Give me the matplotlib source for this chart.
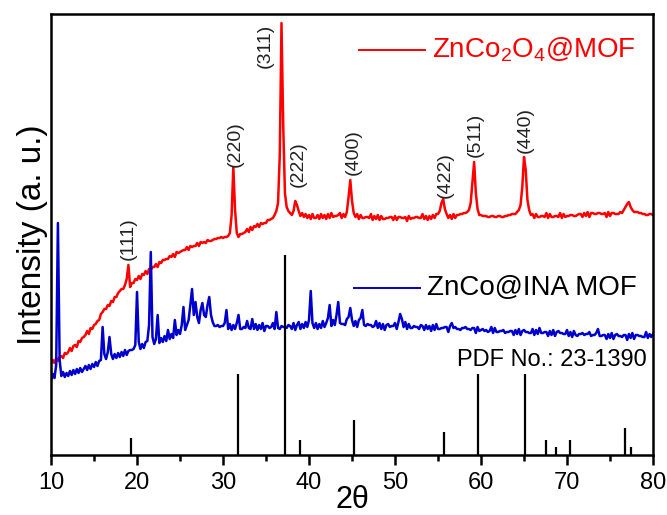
import numpy as np
import matplotlib
matplotlib.use("Agg")
import matplotlib.pyplot as plt

plt.rcParams["font.family"] = ["Liberation Sans", "DejaVu Sans"]
plt.rcParams["mathtext.fontset"] = "custom"
plt.rcParams["mathtext.rm"] = "Liberation Sans"
plt.rcParams["mathtext.it"] = "Liberation Sans"

# 2-theta grid (0.2 deg step) shared by both patterns
two_theta = np.round(np.arange(10.0, 80.01, 0.2), 1)

# ZnCo2O4@MOF intensity (a. u.), one row = 2 deg
red_y = [
    92, 95, 92, 97, 94, 98, 99, 97, 102, 101,
    103, 107, 104, 109, 110, 108, 114, 113, 117, 118,
    120, 124, 121, 127, 126, 130, 131, 134, 135, 141,
    143, 146, 146, 150, 149, 154, 153, 158, 158, 162,
    164, 166, 166, 170, 176, 190, 168, 172, 172, 176,
    175, 179, 176, 181, 180, 184, 181, 186, 185, 188,
    188, 191, 188, 193, 192, 195, 195, 196, 196, 199,
    198, 201, 198, 203, 202, 203, 204, 205, 205, 208,
    205, 209, 208, 209, 209, 212, 209, 213, 212, 213,
    212, 215, 214, 214, 215, 216, 216, 217, 217, 218,
    217, 218, 218, 219, 222, 240, 288, 245, 222, 218,
    221, 221, 222, 223, 226, 223, 228, 225, 229, 228,
    231, 228, 232, 231, 232, 232, 235, 235, 236, 237,
    240, 244, 252, 300, 432, 330, 262, 248, 244, 242,
    240, 244, 254, 250, 244, 239, 242, 238, 241, 237,
    240, 236, 241, 237, 237, 240, 236, 241, 237, 240,
    236, 241, 237, 242, 238, 239, 239, 240, 242, 237,
    241, 238, 243, 258, 275, 254, 242, 238, 241, 236,
    240, 237, 237, 238, 238, 237, 241, 235, 239, 236,
    240, 235, 239, 236, 236, 237, 237, 238, 238, 235,
    239, 235, 238, 238, 237, 237, 238, 234, 239, 236,
    237, 237, 238, 238, 237, 237, 241, 236, 239, 235,
    239, 236, 240, 237, 241, 241, 244, 252, 256, 246,
    241, 237, 240, 236, 241, 237, 240, 240, 241, 241,
    242, 242, 243, 245, 252, 272, 293, 262, 246, 240,
    240, 239, 239, 239, 238, 238, 239, 239, 238, 238,
    239, 239, 238, 238, 239, 239, 240, 240, 241, 241,
    241, 243, 245, 250, 268, 298, 285, 255, 245, 240,
    241, 237, 241, 238, 238, 239, 239, 238, 242, 237,
    241, 238, 238, 239, 239, 238, 242, 237, 241, 238,
    239, 239, 240, 240, 239, 239, 240, 241, 241, 238,
    242, 239, 243, 238, 242, 242, 241, 241, 242, 242,
    241, 241, 242, 238, 243, 239, 242, 242, 241, 241,
    241, 243, 242, 245, 248, 251, 253, 248, 245, 243,
    243, 243, 242, 242, 241, 241, 240, 240, 241, 241,
    240,
]

# ZnCo@INA MOF intensity (a. u.)
blue_y = [
    75, 81, 77, 90, 232, 95, 79, 83, 78, 82,
    79, 84, 80, 85, 81, 86, 82, 87, 83, 86,
    89, 85, 90, 86, 91, 88, 93, 89, 94, 95,
    128, 101, 96, 103, 118, 101, 96, 101, 97, 102,
    98, 103, 99, 105, 100, 104, 105, 105, 106, 110,
    163, 113, 106, 111, 107, 113, 114, 130, 203, 118,
    111, 116, 140, 112, 117, 113, 119, 114, 125, 116,
    121, 117, 135, 120, 125, 121, 130, 148, 125, 130,
    135, 150, 166, 140, 153, 138, 132, 145, 152, 140,
    138, 150, 158, 140, 133, 129, 129, 130, 128, 129,
    129, 132, 145, 126, 131, 125, 130, 126, 132, 140,
    126, 126, 128, 127, 134, 127, 126, 136, 126, 131,
    125, 130, 126, 132, 124, 129, 129, 127, 128, 132,
    126, 143, 127, 126, 129, 128, 128, 127, 130, 129,
    126, 132, 125, 130, 133, 126, 131, 127, 133, 128,
    135, 164, 132, 127, 132, 126, 131, 127, 134, 128,
    132, 137, 150, 129, 135, 130, 140, 153, 132, 131,
    131, 130, 136, 138, 147, 135, 129, 134, 128, 135,
    137, 145, 130, 129, 131, 130, 130, 128, 129, 134,
    127, 132, 126, 131, 125, 130, 131, 128, 129, 129,
    132, 126, 133, 141, 136, 128, 133, 126, 131, 127,
    127, 129, 128, 128, 126, 130, 129, 125, 130, 126,
    129, 124, 130, 125, 131, 126, 126, 127, 127, 128,
    128, 123, 129, 132, 127, 128, 126, 126, 125, 127,
    127, 128, 126, 126, 125, 127, 127, 122, 128, 124,
    125, 126, 124, 125, 123, 124, 128, 122, 127, 123,
    123, 124, 124, 125, 122, 123, 123, 124, 124, 120,
    125, 121, 126, 120, 124, 125, 123, 123, 122, 122,
    126, 120, 125, 121, 127, 122, 122, 123, 123, 119,
    124, 120, 125, 119, 123, 124, 122, 122, 121, 121,
    125, 119, 123, 118, 124, 120, 119, 121, 121, 122,
    120, 121, 121, 123, 119, 120, 120, 122, 126, 119,
    119, 120, 120, 116, 121, 117, 122, 116, 120, 121,
    119, 119, 118, 120, 120, 115, 121, 117, 122, 116,
    120, 120, 119, 119, 118, 118, 123, 117, 121, 118,
    121,
]

# PDF No. 23-1390 reference lines
pdf_pos = [19.3, 31.7, 37.2, 39.0, 45.2, 55.7, 59.6, 65.1, 67.6, 68.7, 70.4, 76.8, 77.5]
pdf_int = [17, 81, 200, 15, 35, 23, 81, 81, 15, 8, 15, 27, 8]

# (hkl) labels: label, x, y of label bottom
hkl_labels = ["(111)", "(220)", "(311)", "(222)", "(400)", "(422)", "(511)", "(440)"]
hkl_x = [19.0, 31.4, 34.9, 38.8, 45.1, 55.8, 59.3, 65.1]
hkl_y = [195, 288, 387, 268, 280, 257, 298, 302]

RED = "#ff0000"
BLUE = "#0000cc"

fig = plt.figure(figsize=(6.67, 5.15), dpi=100)
ax = fig.add_axes([0.0765, 0.1165, 0.9025, 0.8563])

ax.plot(two_theta, red_y, color=RED, linewidth=1.8)
ax.plot(two_theta, blue_y, color=BLUE, linewidth=1.8)
ax.vlines(pdf_pos, 0, pdf_int, color="black", linewidth=1.6)

for lab, x, y in zip(hkl_labels, hkl_x, hkl_y):
    ax.text(x, y, lab, rotation=90, ha="center", va="bottom",
            fontsize=14, color="#222222")

# legend-like annotations
ax.plot([45.8, 53.5], [405, 405], color=RED, linewidth=1.4)
ax.text(54.3, 405, r"ZnCo$_2$O$_4$@MOF", color=RED, fontsize=20,
        ha="left", va="center")
ax.plot([45.2, 52.9], [167, 167], color=BLUE, linewidth=1.4)
ax.text(53.7, 167, "ZnCo@INA MOF", color="black", fontsize=20,
        ha="left", va="center")
ax.text(79.3, 95, "PDF No.: 23-1390", color="black", fontsize=17,
        ha="right", va="center")

ax.set_xlim(10, 80)
ax.set_ylim(0, 441)
ax.set_xticks(range(10, 81, 10))
ax.set_xticks(range(15, 80, 10), minor=True)
ax.set_yticks([])
ax.tick_params(axis="x", which="major", direction="out", length=7, width=1.8,
               labelsize=17, pad=5)
ax.tick_params(axis="x", which="minor", direction="out", length=4, width=1.8)
for sp in ax.spines.values():
    sp.set_linewidth(1.8)

ax.set_xlabel("2θ", fontsize=22, va="center")
ax.xaxis.set_label_coords(0.5, -0.103)
ax.set_ylabel("Intensity (a. u.)", fontsize=24, labelpad=2)

fig.savefig("out.png", dpi=100)
